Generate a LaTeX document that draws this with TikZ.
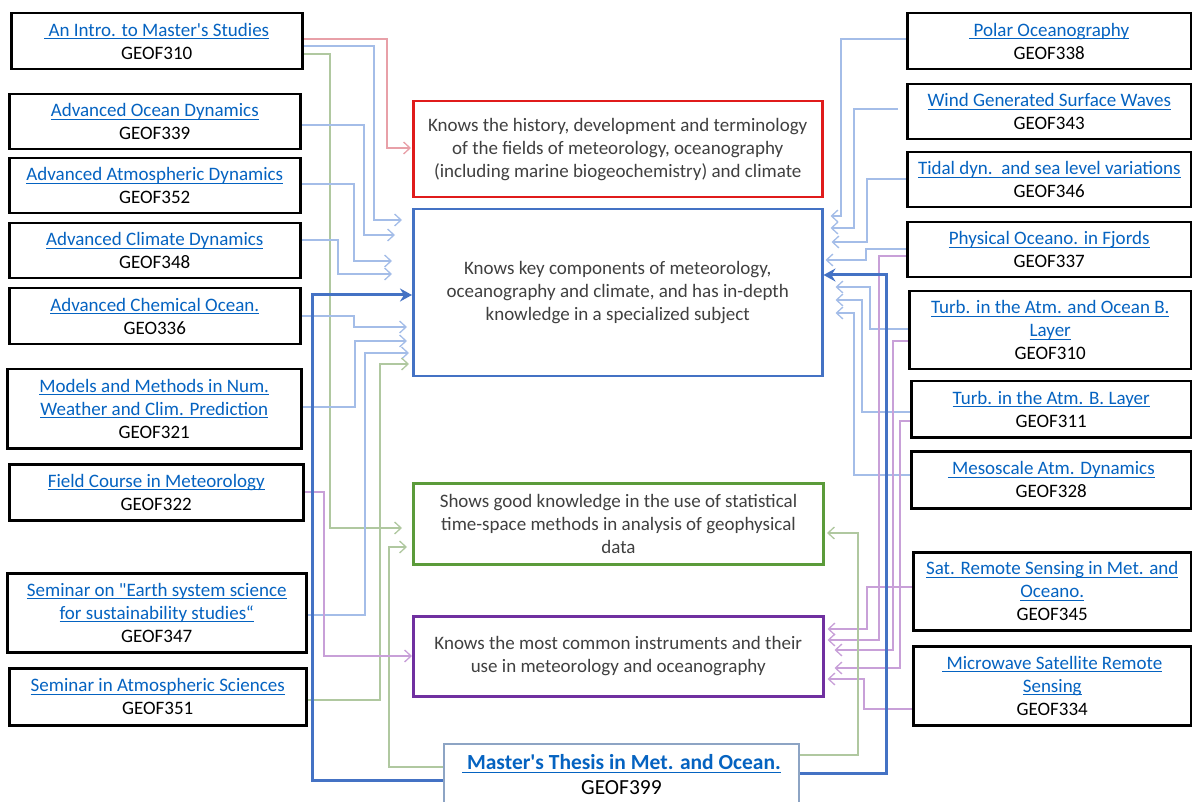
\documentclass[tikz,border=0pt]{standalone}
\usepackage{fontspec}
\setmainfont{Carlito}[Ligatures=TeXOff]
\usetikzlibrary{arrows.meta,backgrounds}
\definecolor{lnkc}{HTML}{0563C1}
\definecolor{txtg}{HTML}{404040}
\definecolor{bred}{HTML}{E01B1B}
\definecolor{bblue}{HTML}{4472C4}
\definecolor{bgreen}{HTML}{5B9B3A}
\definecolor{bpurple}{HTML}{7030A0}
\definecolor{bthesis}{HTML}{8DA4C4}
\definecolor{lred}{HTML}{E8A0A8}
\definecolor{lblue}{HTML}{A4BDE8}
\definecolor{lgreen}{HTML}{B0C8A0}
\definecolor{lpurple}{HTML}{C8A0D8}
\newlength\lnkw
\newcommand\lnk[1]{\settowidth\lnkw{#1}\rlap{\color{lnkc}\rule[-3pt]{\lnkw}{0.9pt}}{\color{lnkc}#1}}
\newcommand\fsA{\fontsize{19pt}{23pt}\selectfont}
\newcommand\fsB{\fontsize{21.5pt}{25pt}\selectfont}
\tikzset{
  box/.style={draw=black, line width=2.5pt, fill=white, anchor=north west, inner sep=0pt, align=center, font=\fsA, text=black},
  cbox/.style={line width=2.5pt, fill=white, anchor=north west, inner sep=0pt, align=center, font=\fsA, text=txtg},
  carr/.style={line width=1.3pt, -{Straight Barb[length=6.5pt,width=12pt]}},
  cred/.style={carr, draw=lred},
  cblue/.style={carr, draw=lblue},
  cgreen/.style={carr, draw=lgreen},
  cpurple/.style={carr, draw=lpurple},
  cthick/.style={line width=3pt, draw=bblue, -{Stealth[length=12pt,width=13pt,inset=4pt]}}
}
\begin{document}
\begin{tikzpicture}[x=1pt,y=-1pt]
\useasboundingbox (0,0) rectangle (1192,802);
\clip (0,0) rectangle (1192,802);
% left boxes
\node[box, minimum width=291pt, minimum height=56pt] (b1) at (10,12) {\lnk{\ An Intro. to Master's Studies}\\GEOF310};
\node[box, minimum width=291pt, minimum height=55pt] (b2) at (8,93) {\lnk{Advanced Ocean Dynamics}\\GEOF339};
\node[box, minimum width=291pt, minimum height=55pt] (b3) at (8,157) {\lnk{Advanced Atmospheric Dynamics}\\GEOF352};
\node[box, minimum width=291pt, minimum height=55pt] (b4) at (8,222) {\lnk{Advanced Climate Dynamics}\\GEOF348};
\node[box, minimum width=291pt, minimum height=56pt] (b5) at (8,287) {\lnk{Advanced Chemical Ocean.}\\GEO336};
\node[box, minimum width=294pt, minimum height=79pt] (b6) at (6,368) {\lnk{Models and Methods in Num.}\\\lnk{Weather and Clim. Prediction}\\GEOF321};
\node[box, minimum width=294pt, minimum height=56pt] (b7) at (8,463) {\lnk{Field Course in Meteorology}\\GEOF322};
\node[box, minimum width=299pt, minimum height=79pt] (b8) at (6,572) {\lnk{Seminar on "Earth system science}\\\lnk{for sustainability studies“}\\GEOF347};
\node[box, minimum width=297pt, minimum height=57pt] (b9) at (8,667) {\lnk{Seminar in Atmospheric Sciences}\\GEOF351};
% right boxes
\node[box, minimum width=284pt, minimum height=56pt] (r1) at (906,12) {\lnk{\ Polar Oceanography}\\GEOF338};
\node[box, minimum width=284pt, minimum height=55pt] (r2) at (906,83) {\lnk{Wind Generated Surface Waves}\\GEOF343};
\node[box, minimum width=284pt, minimum height=55pt] (r3) at (906,151) {\lnk{Tidal dyn.\ \ and sea level variations}\\GEOF346};
\node[box, minimum width=284pt, minimum height=55pt] (r4) at (906,221) {\lnk{Physical Oceano. in Fjords}\\GEOF337};
\node[box, minimum width=282pt, minimum height=78pt] (r5) at (908,290) {\lnk{Turb. in the Atm. and Ocean B.}\\\lnk{Layer}\\GEOF310};
\node[box, minimum width=280pt, minimum height=56pt] (r6) at (910,380) {\lnk{Turb. in the Atm. B. Layer}\\GEOF311};
\node[box, minimum width=280pt, minimum height=57pt] (r7) at (910,450) {\lnk{\ Mesoscale Atm. Dynamics}\\GEOF328};
\node[box, minimum width=278pt, minimum height=78pt] (r8) at (912,551) {\lnk{Sat. Remote Sensing in Met. and}\\\lnk{Oceano.}\\GEOF345};
\node[box, minimum width=278pt, minimum height=79pt] (r9) at (912,645) {\lnk{\ Microwave Satellite Remote}\\\lnk{Sensing}\\GEOF334};
% centre boxes
\node[cbox, draw=bred, minimum width=409pt, minimum height=96pt] (red) at (412,100) {Knows the history, development and terminology\\of the fields of meteorology, oceanography\\(including marine biogeochemistry) and climate};
\node[cbox, draw=bblue, minimum width=409pt, minimum height=167pt] (blue) at (412,208) {Knows key components of meteorology,\\oceanography and climate, and has in-depth\\knowledge in a specialized subject};
\node[cbox, draw=bgreen, line width=3pt, minimum width=410pt, minimum height=81pt] (green) at (412,482) {Shows good knowledge in the use of statistical\\time-space methods in analysis of geophysical\\data};
\node[cbox, draw=bpurple, minimum width=410pt, minimum height=80pt] (purple) at (412,615) {Knows the most common instruments and their\\use in meteorology and oceanography};
\node[box, draw=bthesis, line width=2pt, font=\fsB, minimum width=355pt, minimum height=62pt] (thesis) at (443,743) {\lnk{\bfseries\ Master's Thesis in Met. and Ocean.}\\GEOF399};
\begin{scope}[on background layer]
% left connectors
\draw[cred, shorten >=1pt] (b1.east |- 0,39) -| (387,148) -- (red.west |- 0,148);
\draw[cblue, shorten >=10pt] (b1.east |- 0,46) -| (374,220) -- (blue.west |- 0,220);
\draw[cgreen, shorten >=10pt] (b1.east |- 0,54) -| (330,528) -- (green.west |- 0,528);
\draw[cblue, shorten >=17pt] (b2.east |- 0,125) -| (364,235) -- (blue.west |- 0,235);
\draw[cblue, shorten >=20pt] (b3.east |- 0,184) -| (354,261) -- (blue.west |- 0,261);
\draw[cblue, shorten >=20pt] (b4.east |- 0,240) -| (338,274) -- (blue.west |- 0,274);
\draw[cblue, shorten >=5pt] (b5.east |- 0,316) -| (354,327) -- (blue.west |- 0,327);
\draw[cblue, shorten >=5pt] (b6.east |- 0,407) -| (355,341) -- (blue.west |- 0,341);
\draw[cblue, shorten >=3pt] (b8.east |- 0,615) -| (365,353) -- (blue.west |- 0,353);
\draw[cgreen, shorten >=3pt] (b9.east |- 0,700) -| (380,364) -- (blue.west |- 0,364);
\draw[cgreen, shorten >=5pt] (thesis.west |- 0,767) -| (389,547) -- (green.west |- 0,547);
\draw[cpurple] (b7.east |- 0,492) -| (324,656) -- (purple.west |- 0,656);
\draw[cthick] (thesis.west |- 0,780) -| (312,295) -- (blue.west |- 0,295);
% right connectors
\draw[cblue, shorten >=7pt] (r1.west |- 0,39) -| (841,216) -- (blue.east |- 0,216);
\draw[cblue, shorten <=8pt, shorten >=7pt] (r2.west |- 0,109) -| (854,228) -- (blue.east |- 0,228);
\draw[cblue, shorten >=8pt] (r3.west |- 0,179) -| (867,242) -- (blue.east |- 0,242);
\draw[cblue, shorten >=2pt] (r4.west |- 0,249) -| (866,260) -- (blue.east |- 0,260);
\draw[cblue, shorten >=12pt] (r5.west |- 0,329) -| (870,287) -- (blue.east |- 0,287);
\draw[cblue, shorten >=12pt] (r6.west |- 0,412) -| (862,300) -- (blue.east |- 0,300);
\draw[cblue, shorten >=12pt] (r7.west |- 0,475) -| (854,313) -- (blue.east |- 0,313);
\draw[cpurple, shorten >=3pt] (r4.west |- 0,256) -| (879,640) -- (purple.east |- 0,640);
\draw[cpurple, shorten >=10pt] (r5.west |- 0,341) -| (893,650) -- (purple.east |- 0,650);
\draw[cpurple, shorten >=10pt] (r6.west |- 0,421) -| (900,668) -- (purple.east |- 0,668);
\draw[cpurple, shorten >=3pt] (r8.west |- 0,587) -| (867,629) -- (purple.east |- 0,629);
\draw[cpurple, shorten >=3pt] (r9.west |- 0,709) -| (864,679) -- (purple.east |- 0,679);
\draw[cgreen, shorten >=2pt] (thesis.east |- 0,755) -| (858,533) -- (green.east |- 0,533);
\draw[cthick] (thesis.east |- 0,773) -| (886,275) -- (blue.east |- 0,275);
\end{scope}
\end{tikzpicture}
\end{document}
